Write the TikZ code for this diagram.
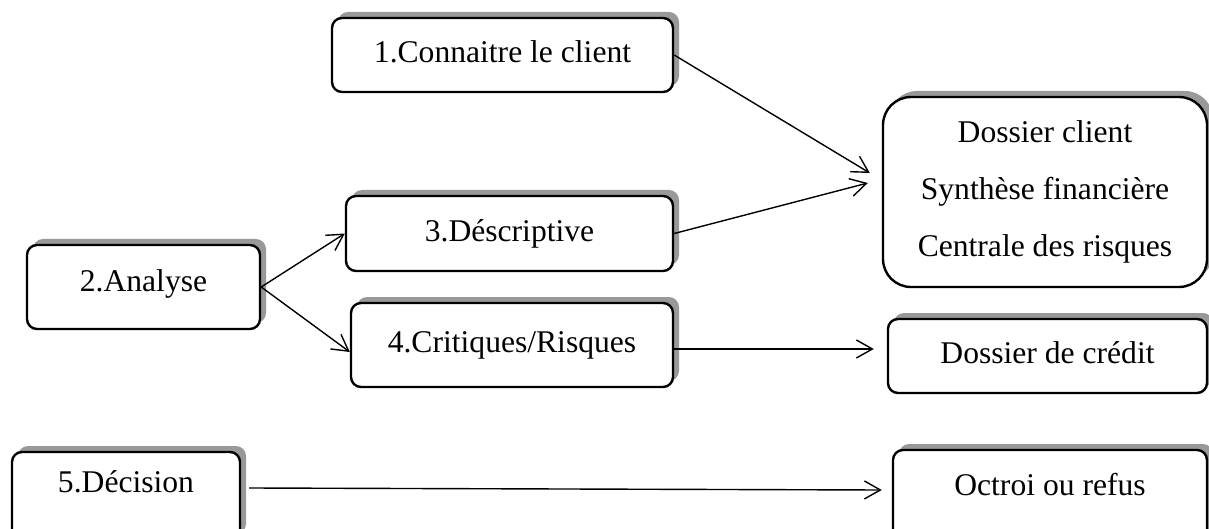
\documentclass[tikz,border=0pt]{standalone}
\usepackage{fontspec}
\setmainfont{Liberation Serif}
\usetikzlibrary{arrows.meta,calc,shadows}
\definecolor{shadowgray}{RGB}{153,153,153}
\begin{document}
\begin{tikzpicture}[x=0.5pt,y=-0.5pt,
  box/.style={draw, line width=1.2pt, rounded corners=5pt, fill=white,
    drop shadow={shadow xshift=3pt, shadow yshift=3pt, fill=shadowgray, opacity=1},
    inner sep=0pt, font=\fontsize{15.8pt}{19pt}\selectfont},
  tb/.style={text height=11pt, text depth=3.2pt},
  arr/.style={line width=0.7pt, -{Straight Barb[length=8pt,width=9pt]}}]
\useasboundingbox (0,0) rectangle (1209,529);
\clip (0,0) rectangle (1209,529);
\node[box, tb, minimum width=170.5pt, minimum height=37pt] (n1) at (502.5,55) {1.Connaitre le client};
\node[box, tb, text depth=6pt, minimum width=116.5pt, minimum height=42pt] (n2) at (143.5,287) {2.Analyse};
\node[box, tb, minimum width=163.5pt, minimum height=37.5pt] (n3) at (509.5,233.5) {3.Déscriptive};
\node[box, tb, minimum width=161pt, minimum height=42pt] (n4) at (512,345) {4.Critiques/Risques};
\node[box, rounded corners=14pt, align=center, font=\fontsize{15.8pt}{28.5pt}\selectfont,
  minimum width=162pt, minimum height=95pt] (dc) at (1045,192)
  {Dossier client\\Synthèse financière\\Centrale des risques};
\node[box, tb, minimum width=159.5pt, minimum height=37pt] (cr) at (1047.5,356) {Dossier de crédit};
\node[box, tb, text depth=15pt, minimum width=114pt, minimum height=44pt] (n5) at (126,496) {5.Décision};
\node[box, tb, text depth=11pt, minimum width=157pt, minimum height=45pt] (oc) at (1050,495) {Octroi ou refus};
\draw[arr] (n1.east) -- ($(dc.west)+(-12,-19)$);
\draw[arr] (n3.east) -- ($(dc.west)+(-14,-9)$);
\draw[arr] (n2.east) -- (n3.west);
\draw[arr] (n2.east) -- ($(n4.west)+(0,7)$);
\draw[arr] ($(n4.east)+(0,4)$) -- ($(cr.west)+(-13,-7)$);
\draw[arr] ($(n5.east)+(8,-8)$) -- ($(oc.west)+(-10,-5)$);
\end{tikzpicture}
\end{document}
